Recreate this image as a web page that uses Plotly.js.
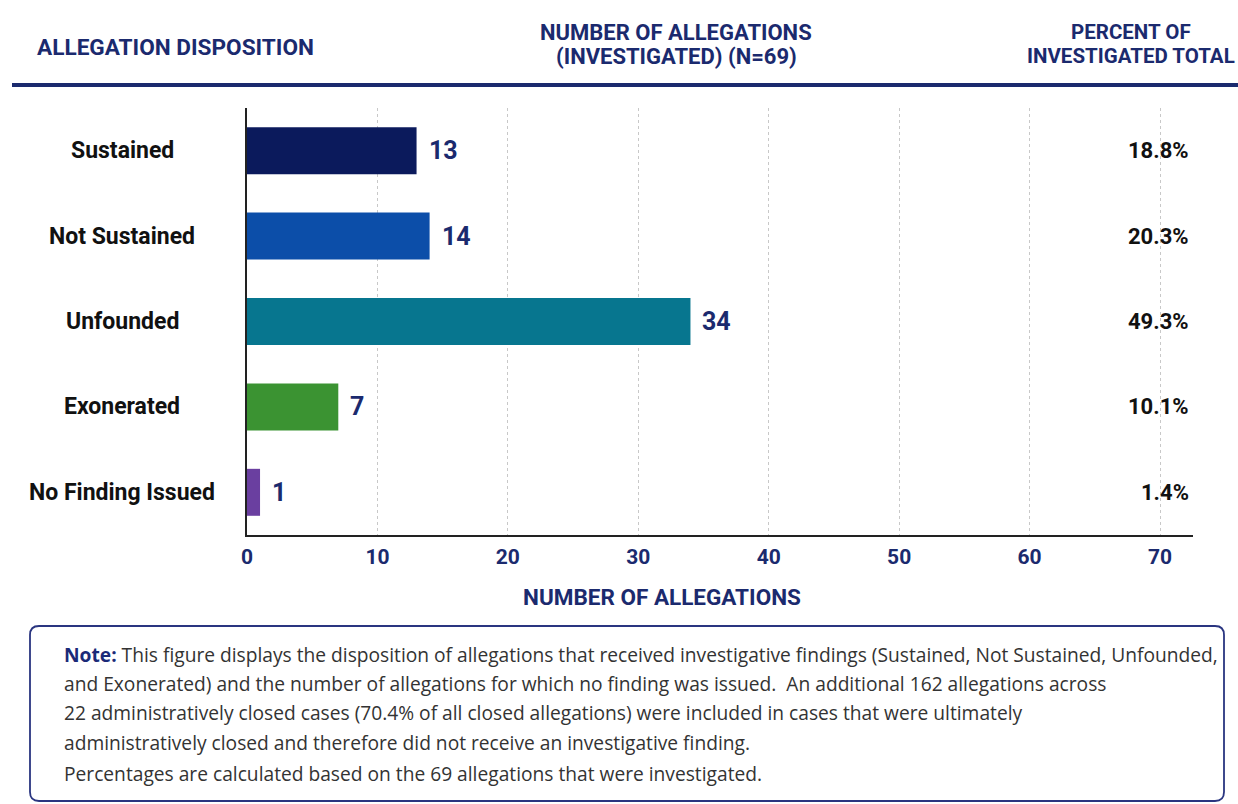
<!DOCTYPE html>
<html>
<head>
<meta charset="utf-8">
<script src="https://cdn.plot.ly/plotly-3.0.1.min.js"></script>
<style>
  html, body { margin: 0; padding: 0; background: #ffffff; }
  #chart { width: 1238px; height: 804px; }
</style>
</head>
<body>
<div id="chart"></div>
<script>
// ---- data ----
const categories = ['Sustained', 'Not Sustained', 'Unfounded', 'Exonerated', 'No Finding Issued'];
const counts = [13, 14, 34, 7, 1];
const percentLabels = ['18.8%', '20.3%', '49.3%', '10.1%', '1.4%'];
const xTickValues = [0, 10, 20, 30, 40, 50, 60, 70];
const headerLeft = 'ALLEGATION DISPOSITION';
const headerMiddle = ['NUMBER OF ALLEGATIONS', '(INVESTIGATED) (N=69)'];
const headerRight = ['PERCENT OF', 'INVESTIGATED TOTAL'];
const axisTitle = 'NUMBER OF ALLEGATIONS';
const noteLines = [
  '<b style="color:#1b2a78">Note:</b> This figure displays the disposition of allegations that received investigative findings (Sustained, Not Sustained, Unfounded,',
  'and Exonerated) and the number of allegations for which no finding was issued.  An additional 162 allegations across',
  '22 administratively closed cases (70.4% of all closed allegations) were included in cases that were ultimately',
  'administratively closed and therefore did not receive an investigative finding.',
  'Percentages are calculated based on the 69 allegations that were investigated.'
];

// ---- style ----
const barColors = ['#0b1a5c', '#0c4ea9', '#07768f', '#3b9332', '#6a3fa0'];
const NAVY = '#1b2a6e';
const COND = 'Roboto, "DejaVu Sans Condensed", sans-serif';
const BODY = '"Open Sans", "Noto Sans", sans-serif';

const W = 1238, H = 804;
const L = 247, R = 1193, T = 108, B = 535;
const px = x => (x - L) / (R - L);
const py = y => (B - y) / (B - T);

const trace = {
  type: 'bar',
  orientation: 'h',
  x: counts,
  y: categories,
  marker: { color: barColors, line: { width: 0 } },
  hoverinfo: 'x+y'
};

const annotations = [];
categories.forEach((c, i) => {
  annotations.push({
    xref: 'paper', yref: 'y', x: px(122), y: c, text: c, showarrow: false,
    xanchor: 'center', yanchor: 'middle',
    font: { family: COND, size: 23, color: '#111111', weight: 'bold' }
  });
  annotations.push({
    xref: 'x', yref: 'y', x: counts[i], y: c, text: String(counts[i]), showarrow: false,
    xanchor: 'left', yanchor: 'middle', xshift: 10,
    font: { family: COND, size: 25, color: NAVY, weight: 'bold' }
  });
  annotations.push({
    xref: 'paper', yref: 'y', x: px(1191), y: c, text: percentLabels[i], showarrow: false,
    xanchor: 'right', yanchor: 'middle',
    font: { family: COND, size: 22, color: '#111111', weight: 'bold' }
  });
});
annotations.push({
  xref: 'paper', yref: 'paper', x: px(35), y: py(47), text: headerLeft, showarrow: false,
  xanchor: 'left', yanchor: 'middle',
  font: { family: COND, size: 22.6, color: NAVY, weight: 'bold' }
});
headerMiddle.forEach((t, k) => annotations.push({
  xref: 'paper', yref: 'paper', x: px(676), y: py(32 + k * 24), text: t, showarrow: false,
  xanchor: 'center', yanchor: 'middle',
  font: { family: COND, size: 22, color: NAVY, weight: 'bold' }
}));
headerRight.forEach((t, k) => annotations.push({
  xref: 'paper', yref: 'paper', x: px(1131), y: py(32 + k * 24), text: t, showarrow: false,
  xanchor: 'center', yanchor: 'middle',
  font: { family: COND, size: 20.5, color: NAVY, weight: 'bold' }
}));
annotations.push({
  xref: 'paper', yref: 'paper', x: px(662), y: py(597), text: axisTitle, showarrow: false,
  xanchor: 'center', yanchor: 'middle',
  font: { family: COND, size: 22.5, color: NAVY, weight: 'bold' }
});
const noteY = [654, 683, 712, 742, 773];
noteLines.forEach((t, k) => annotations.push({
  xref: 'paper', yref: 'paper', x: px(62), y: py(noteY[k]), text: t, showarrow: false,
  xanchor: 'left', yanchor: 'middle', align: 'left',
  font: { family: BODY, size: 19.2, color: '#333333' }
}));

function roundedRect(x0, y0, x1, y1, r) {
  const X = v => px(v).toFixed(5), Y = v => py(v).toFixed(5);
  return 'M' + X(x0 + r) + ',' + Y(y0) +
    ' L' + X(x1 - r) + ',' + Y(y0) +
    ' Q' + X(x1) + ',' + Y(y0) + ' ' + X(x1) + ',' + Y(y0 + r) +
    ' L' + X(x1) + ',' + Y(y1 - r) +
    ' Q' + X(x1) + ',' + Y(y1) + ' ' + X(x1 - r) + ',' + Y(y1) +
    ' L' + X(x0 + r) + ',' + Y(y1) +
    ' Q' + X(x0) + ',' + Y(y1) + ' ' + X(x0) + ',' + Y(y1 - r) +
    ' L' + X(x0) + ',' + Y(y0 + r) +
    ' Q' + X(x0) + ',' + Y(y0) + ' ' + X(x0 + r) + ',' + Y(y0) + ' Z';
}

const shapes = [
  { type: 'line', xref: 'paper', yref: 'paper', x0: px(12), x1: px(1238), y0: py(85), y1: py(85),
    line: { color: NAVY, width: 4 } },
  { type: 'path', xref: 'paper', yref: 'paper', path: roundedRect(30, 626, 1224, 801, 9),
    line: { color: '#2a3580', width: 1.8 }, fillcolor: 'rgba(0,0,0,0)' }
];

const layout = {
  width: W, height: H,
  margin: { l: L, r: W - R, t: T, b: H - B, pad: 0 },
  paper_bgcolor: '#ffffff', plot_bgcolor: '#ffffff',
  showlegend: false,
  bargap: 0.45,
  xaxis: {
    range: [0, (R - L) / ((1160 - L) / 70)],
    tickvals: xTickValues,
    ticktext: xTickValues.map(String),
    showgrid: true, gridcolor: '#c8c8c8', griddash: 'dot', gridwidth: 1,
    zeroline: false,
    showline: true, linecolor: '#222222', linewidth: 2,
    ticks: '', ticklabelstandoff: 2,
    tickfont: { family: COND, size: 21, color: NAVY, weight: 'bold' },
    fixedrange: true
  },
  yaxis: {
    type: 'category',
    autorange: 'reversed',
    showticklabels: false,
    showgrid: false, zeroline: false,
    showline: true, linecolor: '#222222', linewidth: 2,
    ticks: '',
    fixedrange: true
  },
  annotations: annotations,
  shapes: shapes
};

Plotly.newPlot('chart', [trace], layout, { displayModeBar: false, staticPlot: true });
</script>
</body>
</html>
